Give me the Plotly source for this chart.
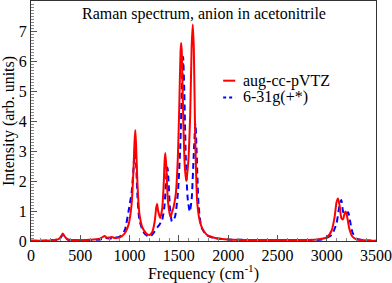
import plotly.graph_objects as go

# Red: aug-cc-pVTZ
freq_avtz = [0, 200, 280, 310, 322, 335, 370, 450, 600, 700, 730, 746, 770, 800, 821, 850, 900, 950, 990,
             1020, 1040, 1050, 1058, 1066, 1080, 1100, 1130, 1170, 1200, 1230, 1255, 1270, 1279, 1290, 1310,
             1330, 1345, 1356, 1363, 1372, 1390, 1414, 1430, 1448, 1470, 1490, 1505, 1517, 1523, 1530, 1545,
             1560, 1575, 1595, 1615, 1630, 1641, 1652, 1665, 1686, 1710, 1736, 1780, 1821, 1900, 2000, 2500,
             2900, 3000, 3050, 3080, 3100, 3115, 3130, 3150, 3165, 3180, 3192, 3205, 3230, 3260, 3300, 3400, 3500]
int_avtz = [0.01, 0.02, 0.06, 0.18, 0.25, 0.18, 0.05, 0.03, 0.04, 0.08, 0.14, 0.17, 0.11, 0.12, 0.13, 0.10, 0.12, 0.25, 0.55,
            1.2, 2.4, 3.3, 3.7, 3.2, 1.9, 0.9, 0.45, 0.25, 0.2, 0.3, 0.65, 1.1, 1.23, 1.0, 0.77,
            1.05, 1.8, 2.7, 2.93, 2.5, 1.3, 0.8, 0.95, 1.15, 1.6, 2.8, 4.6, 6.3, 6.6, 6.3, 4.0,
            2.5, 2.0, 2.6, 4.2, 6.5, 7.22, 6.4, 3.6, 1.3, 0.7, 0.43, 0.22, 0.15, 0.08, 0.05, 0.03,
            0.05, 0.12, 0.35, 0.8, 1.3, 1.42, 1.2, 0.75, 0.72, 0.9, 0.98, 0.85, 0.4, 0.15, 0.06, 0.02, 0.01]

# Blue: 6-31g(+*)
freq_631 = [0, 200, 290, 310, 325, 340, 380, 500, 700, 750, 800, 830, 900, 950, 990, 1020, 1040, 1050, 1057,
            1065, 1080, 1100, 1140, 1180, 1210, 1250, 1280, 1300, 1330, 1355, 1372, 1385, 1395, 1410, 1430,
            1460, 1490, 1515, 1530, 1543, 1555, 1570, 1590, 1611, 1630, 1650, 1668, 1680, 1700, 1730, 1780,
            1850, 2000, 2500, 2950, 3050, 3100, 3130, 3148, 3165, 3180, 3200, 3218, 3235, 3260, 3300, 3400, 3500]
int_631 = [0.01, 0.02, 0.06, 0.16, 0.22, 0.14, 0.04, 0.02, 0.05, 0.10, 0.08, 0.10, 0.15, 0.35, 1.0, 1.6, 2.4, 2.95, 3.1,
           2.7, 1.5, 0.7, 0.3, 0.17, 0.15, 0.3, 0.45, 0.53, 0.7, 1.2, 2.1, 2.45, 2.0, 1.1, 0.65,
           0.8, 1.6, 3.2, 5.0, 6.14, 5.0, 2.8, 1.4, 0.98, 1.4, 2.8, 3.92, 3.0, 1.2, 0.45, 0.2,
           0.1, 0.05, 0.03, 0.05, 0.2, 0.6, 1.2, 1.37, 1.0, 0.88, 0.9, 0.96, 0.7, 0.3, 0.08, 0.02, 0.01]

x_ticks = [0, 500, 1000, 1500, 2000, 2500, 3000, 3500]
y_ticks = [0, 1, 2, 3, 4, 5, 6, 7]
series_names = ["aug-cc-pVTZ", "6-31g(+*)"]
title_text = "Raman spectrum, anion in acetonitrile"

SERIF = "Liberation Serif"

fig = go.Figure()
fig.add_trace(go.Scatter(x=freq_631, y=int_631, mode="lines", name=series_names[1],
                         line=dict(color="#0000ff", width=2, dash="6px,4px", shape="spline", smoothing=0.6),
                         showlegend=False))
fig.add_trace(go.Scatter(x=freq_avtz, y=int_avtz, mode="lines", name=series_names[0],
                         line=dict(color="#ff0000", width=2, shape="spline", smoothing=0.6),
                         showlegend=False))

axis_common = dict(showline=True, linecolor="#333333", linewidth=1, mirror=True,
                   showgrid=False, zeroline=False, ticks="inside", ticklen=6, tickwidth=1,
                   tickcolor="#555555", automargin=False,
                   tickfont=dict(family=SERIF, size=16, color="black"))

fig.update_xaxes(range=[0, 3500], tickvals=x_ticks, ticktext=[str(v) for v in x_ticks],
                 minor=dict(dtick=100, ticks="inside", ticklen=3, tickcolor="#888888"),
                 title=dict(text="Frequency (cm<sup>-1</sup>)", font=dict(family=SERIF, size=16, color="black"),
                            standoff=4),
                 **axis_common)
fig.update_yaxes(range=[0, 8], tickvals=y_ticks, ticktext=[str(v) for v in y_ticks],
                 minor=dict(dtick=0.1, ticks="inside", ticklen=3, tickcolor="#888888"),
                 title=dict(text="Intensity (arb. units)", font=dict(family=SERIF, size=16, color="black"),
                            standoff=6),
                 **axis_common)

# title inside plot
fig.add_annotation(text=title_text, xref="paper", yref="paper", x=0.5, y=0.992,
                   xanchor="center", yanchor="top", showarrow=False,
                   font=dict(family=SERIF, size=16, color="black"))

# manual legend
legend_colors = ["#ff0000", "#0000ff"]
legend_dash = ["solid", "3px,3px"]
legend_y = [0.668, 0.598]
for name, col, dsh, ly in zip(series_names, legend_colors, legend_dash, legend_y):
    fig.add_shape(type="line", xref="paper", yref="paper", x0=0.557, x1=0.592, y0=ly, y1=ly,
                  line=dict(color=col, width=2, dash=dsh))
    fig.add_annotation(text=name, xref="paper", yref="paper", x=0.610, y=ly,
                       xanchor="left", yanchor="middle", showarrow=False,
                       font=dict(family=SERIF, size=16, color="black"))

fig.update_layout(width=392, height=283, margin=dict(l=31, r=16, t=1, b=42),
                  font=dict(family=SERIF, size=16, color="black"),
                  paper_bgcolor="white", plot_bgcolor="white", showlegend=False)

fig.write_html("out.html", config={"displayModeBar": False},
               post_script="document.body.style.margin='0';document.body.style.overflow='hidden';")
